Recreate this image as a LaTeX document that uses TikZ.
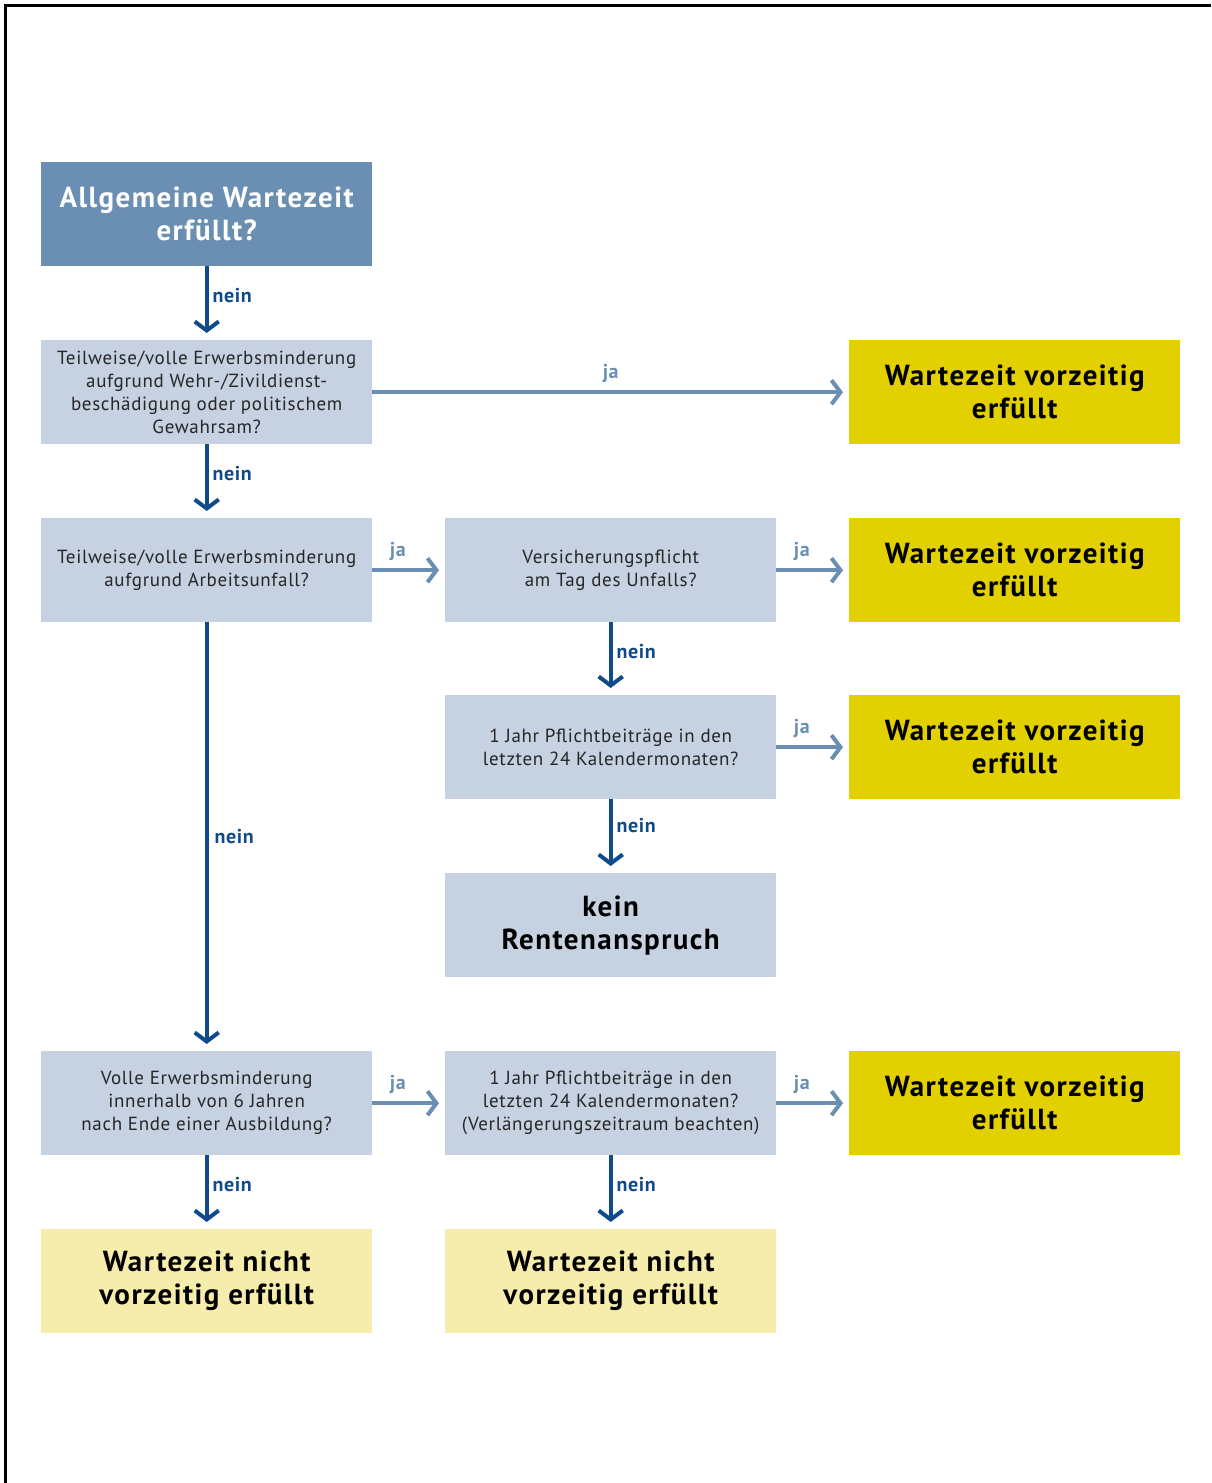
\documentclass[tikz,border=0pt]{standalone}
\usepackage{fontspec}
\setmainfont{PT Sans}
\usetikzlibrary{arrows.meta}
\definecolor{topblue}{HTML}{6A8FB3}
\definecolor{lightbox}{HTML}{C6D1E1}
\definecolor{yellowbox}{HTML}{E3D000}
\definecolor{paleyellow}{HTML}{F6ECAB}
\definecolor{neinblue}{HTML}{0F4A8A}
\definecolor{jablue}{HTML}{6A8FB3}
\newcommand{\headfont}{\bfseries\fontsize{29}{33}\selectfont\addfontfeature{LetterSpace=5}}
\newcommand{\bodyfont}{\fontsize{19}{23}\selectfont\addfontfeature{LetterSpace=3.5}}
\newcommand{\labfont}{\bfseries\fontsize{20}{22}\selectfont\addfontfeature{LetterSpace=3}}
\tikzset{
  x=1pt, y=-1pt,
  box/.style={draw=none, minimum width=331pt, minimum height=104pt, inner sep=0pt, align=center, anchor=north west},
  qbox/.style={box, fill=lightbox, text=black!85, font=\bodyfont},
  ybox/.style={box, fill=yellowbox, text=black, font=\headfont},
  pbox/.style={box, fill=paleyellow, text=black, font=\headfont},
  neinarrow/.style={draw=neinblue, line width=4pt, shorten >=7pt, -{Straight Barb[length=9pt,width=24pt,line width=4pt]}},
  jaarrow/.style={draw=jablue, line width=4pt, shorten >=6pt, -{Straight Barb[length=9pt,width=24pt,line width=4pt]}},
  neinlabel/.style={text=neinblue, font=\labfont, anchor=west, inner sep=0pt, xshift=4pt},
  jalabel/.style={text=jablue, font=\labfont, anchor=south, inner sep=0pt, yshift=8pt}
}
\begin{document}
\begin{tikzpicture}
\useasboundingbox (0,0) rectangle (1211,1483);
\fill[white] (0,0) rectangle (1211,1483);
\draw[line width=3pt, black] (5,1483) -- (5,5) -- (1211,5);

\node[box, fill=topblue, text=white, font=\headfont] (a) at (41,162) {Allgemeine Wartezeit\\erfüllt?};
\node[qbox] (b) at (41,340) {Teilweise/volle Erwerbsminderung\\aufgrund Wehr-/Zivildienst-\\beschädigung oder politischem\\Gewahrsam?};
\node[ybox] (y1) at (849,340) {Wartezeit vorzeitig\\erfüllt};
\node[qbox] (c) at (41,518) {Teilweise/volle Erwerbsminderung\\aufgrund Arbeitsunfall?};
\node[qbox] (d) at (445,518) {Versicherungspflicht\\am Tag des Unfalls?};
\node[ybox] (y2) at (849,518) {Wartezeit vorzeitig\\erfüllt};
\node[qbox] (e) at (445,695) {1 Jahr Pflichtbeiträge in den\\letzten 24 Kalendermonaten?};
\node[ybox] (y3) at (849,695) {Wartezeit vorzeitig\\erfüllt};
\node[qbox, font=\headfont, text=black] (f) at (445,873) {kein\\Rentenanspruch};
\node[qbox] (g) at (41,1051) {Volle Erwerbsminderung\\innerhalb von 6 Jahren\\nach Ende einer Ausbildung?};
\node[qbox] (h) at (445,1051) {1 Jahr Pflichtbeiträge in den\\letzten 24 Kalendermonaten?\\(Verlängerungszeitraum beachten)};
\node[ybox] (y4) at (849,1051) {Wartezeit vorzeitig\\erfüllt};
\node[pbox] (i) at (41,1229) {Wartezeit nicht\\vorzeitig erfüllt};
\node[pbox] (j) at (445,1229) {Wartezeit nicht\\vorzeitig erfüllt};

\draw[neinarrow] (a.south) -- (b.north) node[neinlabel, pos=0.4] {nein};
\draw[neinarrow] (b.south) -- (c.north) node[neinlabel, pos=0.4] {nein};
\draw[neinarrow] (d.south) -- (e.north) node[neinlabel, pos=0.4] {nein};
\draw[neinarrow] (e.south) -- (f.north) node[neinlabel, pos=0.35] {nein};
\draw[neinarrow] (c.south) -- (g.north) node[neinlabel, pos=0.5, xshift=2pt] {nein};
\draw[neinarrow] (g.south) -- (i.north) node[neinlabel, pos=0.4] {nein};
\draw[neinarrow] (h.south) -- (j.north) node[neinlabel, pos=0.4] {nein};

\draw[jaarrow] (b.east) -- (y1.west) node[jalabel, pos=0.5] {ja};
\draw[jaarrow] (c.east) -- (d.west) node[jalabel, pos=0.35] {ja};
\draw[jaarrow] (d.east) -- (y2.west) node[jalabel, pos=0.35] {ja};
\draw[jaarrow] (e.east) -- (y3.west) node[jalabel, pos=0.35] {ja};
\draw[jaarrow] (g.east) -- (h.west) node[jalabel, pos=0.35] {ja};
\draw[jaarrow] (h.east) -- (y4.west) node[jalabel, pos=0.35] {ja};
\end{tikzpicture}
\end{document}
